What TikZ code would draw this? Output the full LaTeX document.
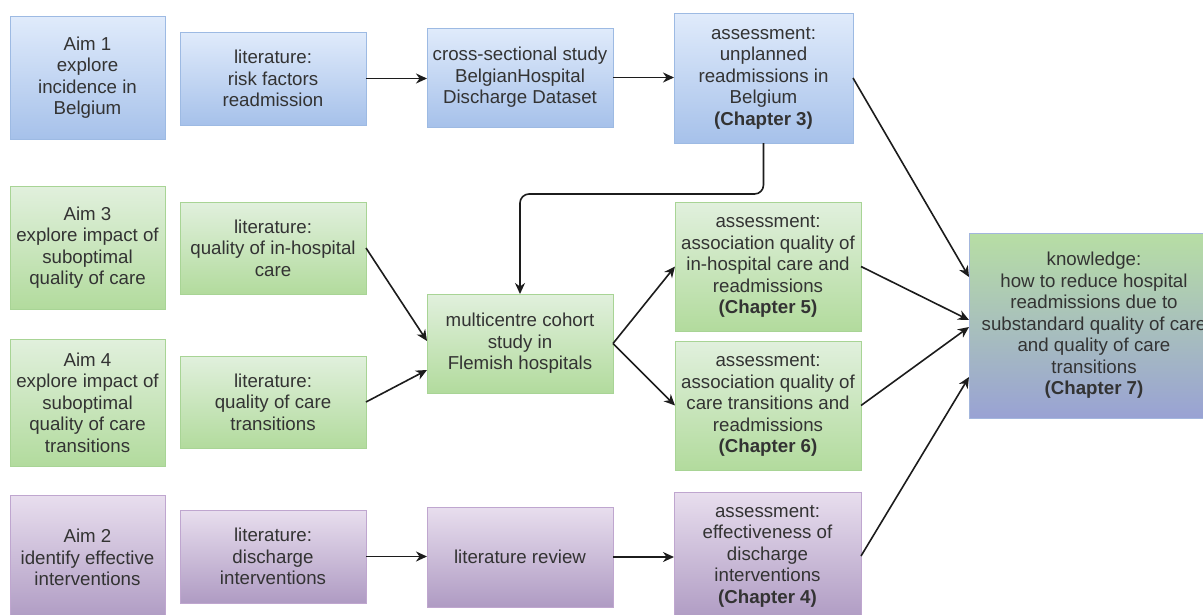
\documentclass[tikz,border=0pt]{standalone}
\usepackage{fontspec}
\setmainfont{Liberation Sans}
\usetikzlibrary{arrows.meta}
\definecolor{bla}{HTML}{E0EBFB}
\definecolor{blz}{HTML}{A6C1EA}
\definecolor{blb}{HTML}{9DBAE3}
\definecolor{gra}{HTML}{E1F0DD}
\definecolor{grz}{HTML}{B2DB9D}
\definecolor{grb}{HTML}{A8D495}
\definecolor{pua}{HTML}{E8DEEE}
\definecolor{puz}{HTML}{AF9BC3}
\definecolor{pub}{HTML}{BFA6CF}
\definecolor{kna}{HTML}{B7DEA4}
\definecolor{knz}{HTML}{99A2D4}
\definecolor{knb}{HTML}{A3B6DD}
\definecolor{txt}{HTML}{333333}
\definecolor{lnk}{HTML}{1C1C1C}
\tikzset{
  boxbase/.style={rectangle, inner sep=0pt, outer sep=0pt, line width=1pt, align=center,
    text=txt, font=\fontsize{18.7}{21.5}\selectfont},
  bluebox/.style={boxbase, top color=bla, bottom color=blz, draw=blb},
  greenbox/.style={boxbase, top color=gra, bottom color=grz, draw=grb},
  purplebox/.style={boxbase, top color=pua, bottom color=puz, draw=pub},
  knowbox/.style={boxbase, top color=kna, bottom color=knz, draw=knb},
  conn/.style={draw=lnk, line width=1.6pt, -{Stealth[length=11pt,width=10pt,inset=3.5pt]}},
}
\begin{document}
\begin{tikzpicture}[x=1pt,y=-1pt]
\clip (0,0) rectangle (1203,614);
\fill[white] (0,0) rectangle (1203,614);
% row 1
\node[bluebox, minimum width=155pt, minimum height=123pt] (a1) at (87.5,77.5) {Aim 1\\explore\\incidence in\\Belgium};
\node[bluebox, minimum width=186pt, minimum height=93pt] (l1) at (273,78.5) {literature:\\risk factors\\readmission};
\node[bluebox, minimum width=186pt, minimum height=99pt] (cs) at (520,77.5) {cross-sectional study\\BelgianHospital\\Discharge Dataset};
\node[bluebox, minimum width=179pt, minimum height=130pt] (c3) at (763.5,78) {assessment:\\unplanned\\readmissions in\\Belgium\\\textbf{(Chapter 3)}};
% rows 2-3
\node[greenbox, minimum width=155pt, minimum height=123pt] (a3) at (87.5,247.5) {Aim 3\\explore impact of\\suboptimal\\quality of care};
\node[greenbox, minimum width=186pt, minimum height=92pt] (l3) at (273,248) {literature:\\quality of in-hospital\\care};
\node[greenbox, minimum width=155pt, minimum height=127pt] (a4) at (87.5,402.5) {Aim 4\\explore impact of\\suboptimal\\quality of care\\transitions};
\node[greenbox, minimum width=186pt, minimum height=92pt] (l4) at (273,402) {literature:\\quality of care\\transitions};
\node[greenbox, minimum width=186pt, minimum height=99pt] (mc) at (520,343.5) {multicentre cohort\\study in\\Flemish hospitals};
\node[greenbox, minimum width=186pt, minimum height=129pt] (c5) at (768,266.5) {assessment:\\association quality of\\in-hospital care and\\readmissions\\\textbf{(Chapter 5)}};
\node[greenbox, minimum width=186pt, minimum height=129pt] (c6) at (768,405.5) {assessment:\\association quality of\\care transitions and\\readmissions\\\textbf{(Chapter 6)}};
% knowledge
\node[knowbox, minimum width=250pt, minimum height=185pt] (kn) at (1094,325.5) {knowledge:\\how to reduce hospital\\readmissions due to\\substandard quality of care\\and quality of care\\transitions\\\textbf{(Chapter 7)}};
% row 4
\node[purplebox, minimum width=155pt, minimum height=125pt] (a2) at (87.5,557.5) {Aim 2\\identify effective\\interventions};
\node[purplebox, minimum width=186pt, minimum height=93pt] (l2) at (273,556.5) {literature:\\discharge\\interventions};
\node[purplebox, minimum width=186pt, minimum height=100pt] (lr) at (520,557) {literature review};
\node[purplebox, minimum width=187pt, minimum height=128pt] (c4) at (767.5,556) {assessment:\\effectiveness of\\discharge\\interventions\\\textbf{(Chapter 4)}};
% coordinates
\coordinate (turn) at (520,194);
\coordinate (mcin1) at (427,341);
\coordinate (mcin2) at (427,370);
\coordinate (k1) at (969,277);
\coordinate (k2) at (969,320);
\coordinate (k3) at (969,327);
\coordinate (k4) at (969,377);
% connectors
\draw[conn] (l1.east) -- (l1.east -| cs.west);
\draw[conn] (cs.east) -- (cs.east -| c3.west);
\draw[conn, rounded corners=9pt] (c3.south) |- (turn) -- (mc.north);
\draw[conn] (c3.east) -- (k1);
\draw[conn] (l3.east) -- (mcin1);
\draw[conn] (l4.east) -- (mcin2);
\draw[conn] (mc.east) -- (c5.west);
\draw[conn] (mc.east) -- (c6.west);
\draw[conn] (c5.east) -- (k2);
\draw[conn] (c6.east) -- (k3);
\draw[conn] (c4.east) -- (k4);
\draw[conn] (l2.east) -- (l2.east -| lr.west);
\draw[conn] (lr.east) -- (lr.east -| c4.west);
\end{tikzpicture}
\end{document}
